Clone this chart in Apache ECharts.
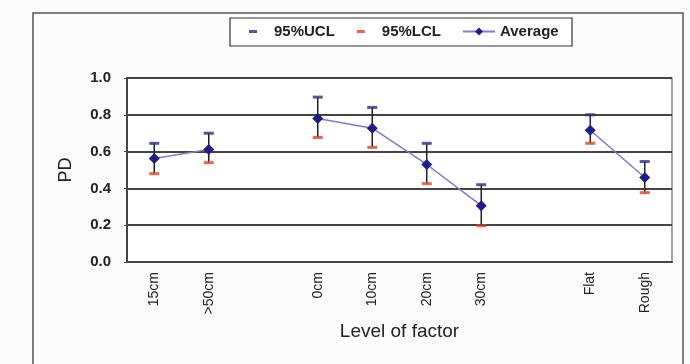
<!DOCTYPE html>
<html>
<head>
<meta charset="utf-8">
<script src="https://cdn.jsdelivr.net/npm/echarts@6/dist/echarts.min.js"></script>
<style>
html,body{margin:0;padding:0;background:#fbfbfb;}
#c{width:690px;height:364px;}
</style>
</head>
<body>
<div id="c"></div>
<script>
var categories = ['15cm', '>50cm', '', '0cm', '10cm', '20cm', '30cm', '', 'Flat', 'Rough'];
var average = [0.563, 0.612, null, 0.78, 0.727, 0.53, 0.306, null, 0.716, 0.459];
var ucl = [0.645, 0.70, null, 0.896, 0.84, 0.645, 0.42, null, 0.80, 0.546];
var lcl = [0.48, 0.54, null, 0.677, 0.623, 0.426, 0.197, null, 0.645, 0.377];
var yTicks = [0, 0.2, 0.4, 0.6, 0.8, 1.0];

var chart = echarts.init(document.getElementById('c'), null, {renderer: 'canvas'});

var barData = categories.map(function (c, i) { return [i, lcl[i], ucl[i]]; })
  .filter(function (d) { return d[1] != null; });

var FONT = 'Liberation Sans, Arial, sans-serif';
var legendText = {fontFamily: FONT, fontSize: 15, fontWeight: 'bold', color: '#222'};

var option = {
  backgroundColor: '#fbfbfb',
  animation: false,
  graphic: [
    {type: 'rect', shape: {x: 33, y: 13, width: 650, height: 360}, style: {fill: 'none', stroke: '#555', lineWidth: 1.5}, z: -1},
    {type: 'rect', shape: {x: 230, y: 18, width: 342, height: 28}, style: {fill: '#fff', stroke: '#333', lineWidth: 1.2}, z: 0}
  ],
  legend: [
    {
      left: 249, top: 24,
      padding: 0,
      itemGap: 22,
      itemWidth: 8, itemHeight: 3,
      textStyle: Object.assign({padding: [0, 0, 0, 12]}, legendText),
      data: [
        {name: '95%UCL', icon: 'rect', itemStyle: {color: '#2a2a88'}},
        {name: '95%LCL', icon: 'rect', itemStyle: {color: '#e8401c'}}
      ]
    },
    {
      left: 462, top: 24,
      padding: 0,
      itemWidth: 32, itemHeight: 10,
      textStyle: legendText,
      data: [{name: 'Average'}]
    }
  ],
  grid: {left: 127, top: 78, right: 18, bottom: 102, show: true, borderColor: '#888', borderWidth: 1.5, backgroundColor: '#fff'},
  xAxis: {
    type: 'category',
    data: categories,
    boundaryGap: true,
    name: 'Level of factor',
    nameLocation: 'middle',
    nameGap: 60,
    nameTextStyle: {fontFamily: FONT, fontSize: 19, color: '#222'},
    axisLine: {lineStyle: {color: '#444', width: 2}},
    axisTick: {inside: true, length: 4, interval: 0, lineStyle: {color: '#444'}},
    axisLabel: {rotate: 90, interval: 0, margin: 10, fontFamily: FONT, fontSize: 14, color: '#222'}
  },
  yAxis: {
    type: 'value',
    min: 0, max: 1.0, interval: 0.2,
    name: 'PD',
    nameLocation: 'middle',
    nameGap: 52,
    nameRotate: 90,
    nameTextStyle: {fontFamily: FONT, fontSize: 18, color: '#222'},
    axisLine: {show: true, lineStyle: {color: '#444', width: 2}},
    axisTick: {show: true, length: 3, lineStyle: {color: '#444'}},
    axisLabel: {margin: 16, fontFamily: FONT, fontSize: 15, fontWeight: 'bold', color: '#222',
      formatter: function (v) { return v.toFixed(1); }},
    splitLine: {show: true, lineStyle: {color: '#444', width: 2}}
  },
  series: [
    {
      name: 'errbar',
      type: 'custom',
      z: 2,
      renderItem: function (params, api) {
        var x = api.value(0);
        var lo = api.coord([x, api.value(1)]);
        var hi = api.coord([x, api.value(2)]);
        return {type: 'line', shape: {x1: lo[0], y1: lo[1], x2: hi[0], y2: hi[1]}, style: {stroke: '#222', lineWidth: 1.5}};
      },
      encode: {x: 0, y: [1, 2]},
      data: barData,
      silent: true
    },
    {
      name: '95%UCL', type: 'scatter', z: 3,
      symbol: 'rect', symbolSize: [10, 3],
      itemStyle: {color: '#2a2a88'},
      data: ucl
    },
    {
      name: '95%LCL', type: 'scatter', z: 3,
      symbol: 'rect', symbolSize: [10, 3],
      itemStyle: {color: '#e8401c'},
      data: lcl
    },
    {
      name: 'Average', type: 'line', z: 4,
      symbol: 'diamond', symbolSize: 11,
      connectNulls: false,
      lineStyle: {color: '#7a7ad8', width: 1.5},
      itemStyle: {color: '#1e1e8a'},
      data: average
    }
  ]
};
chart.setOption(option);
</script>
</body>
</html>
